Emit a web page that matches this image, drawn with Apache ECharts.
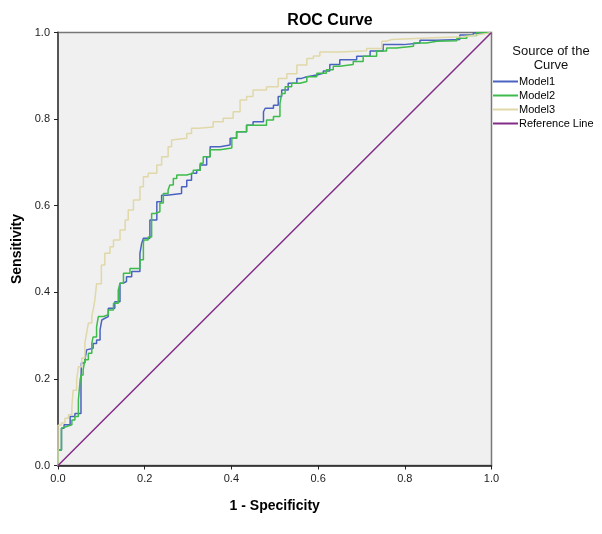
<!DOCTYPE html>
<html>
<head>
<meta charset="utf-8">
<script src="https://cdn.jsdelivr.net/npm/echarts@6/dist/echarts.min.js"></script>
<style>
  html, body { margin: 0; padding: 0; background: #fff; }
  #main { width: 602px; height: 534px; }
</style>
</head>
<body>
<div id="main"></div>
<script>
// 轴刻度
var tickValues = [0, 0.2, 0.4, 0.6, 0.8, 1.0];

// 各模型的 ROC 曲线点 [1 - 特异度, 灵敏度]
var model1 = [
    [0, 0], [0, 0.036], [0.008, 0.036], [0.014, 0.086], [0.028, 0.094], [0.039, 0.113],
    [0.053, 0.120], [0.054, 0.197], [0.062, 0.237], [0.066, 0.244], [0.070, 0.267],
    [0.081, 0.271], [0.089, 0.282], [0.097, 0.290], [0.101, 0.313], [0.105, 0.336],
    [0.108, 0.340], [0.116, 0.344], [0.131, 0.363], [0.143, 0.378], [0.151, 0.421],
    [0.158, 0.425], [0.170, 0.436], [0.189, 0.448], [0.193, 0.490], [0.197, 0.513],
    [0.212, 0.525], [0.228, 0.567], [0.228, 0.594], [0.239, 0.609], [0.251, 0.624],
    [0.285, 0.628], [0.297, 0.644], [0.308, 0.659], [0.320, 0.675], [0.328, 0.682],
    [0.343, 0.694], [0.351, 0.713], [0.374, 0.736], [0.397, 0.740], [0.412, 0.756],
    [0.435, 0.771], [0.450, 0.786], [0.474, 0.794], [0.478, 0.817], [0.497, 0.825],
    [0.508, 0.832], [0.516, 0.852], [0.531, 0.867], [0.551, 0.883], [0.562, 0.894],
    [0.574, 0.898], [0.597, 0.902], [0.612, 0.906], [0.627, 0.911], [0.650, 0.926],
    [0.689, 0.937], [0.720, 0.945], [0.750, 0.957], [0.797, 0.972], [0.835, 0.976],
    [0.874, 0.982], [0.927, 0.984], [0.958, 0.994], [0.989, 0.999], [1, 1]
];

var model2 = [
    [0, 0], [0, 0.036], [0.008, 0.036], [0.012, 0.086], [0.020, 0.090], [0.032, 0.094],
    [0.039, 0.105], [0.047, 0.113], [0.051, 0.151], [0.053, 0.197], [0.058, 0.209],
    [0.062, 0.221], [0.070, 0.244], [0.078, 0.259], [0.081, 0.282], [0.089, 0.297],
    [0.093, 0.320], [0.105, 0.344], [0.116, 0.348], [0.128, 0.359], [0.139, 0.375],
    [0.143, 0.405], [0.151, 0.421], [0.166, 0.444], [0.189, 0.455], [0.197, 0.475],
    [0.198, 0.513], [0.208, 0.521], [0.216, 0.528], [0.224, 0.582], [0.235, 0.586],
    [0.243, 0.606], [0.254, 0.628], [0.258, 0.636], [0.266, 0.648], [0.274, 0.663],
    [0.297, 0.671], [0.312, 0.675], [0.328, 0.682], [0.335, 0.698], [0.351, 0.713],
    [0.374, 0.729], [0.401, 0.733], [0.412, 0.756], [0.435, 0.771], [0.450, 0.786],
    [0.481, 0.786], [0.497, 0.798], [0.512, 0.806], [0.516, 0.836], [0.524, 0.859],
    [0.539, 0.875], [0.558, 0.883], [0.574, 0.887], [0.597, 0.898], [0.619, 0.906],
    [0.635, 0.914], [0.650, 0.922], [0.681, 0.926], [0.704, 0.933], [0.735, 0.945],
    [0.758, 0.957], [0.781, 0.964], [0.820, 0.968], [0.850, 0.976], [0.874, 0.980],
    [0.920, 0.981], [0.943, 0.987], [0.966, 0.993], [0.993, 1.0], [1, 1]
];

var model3 = [
    [0, 0], [0, 0.017], [0.008, 0.093], [0.016, 0.098], [0.024, 0.109], [0.032, 0.117],
    [0.035, 0.136], [0.043, 0.174], [0.047, 0.197], [0.055, 0.228], [0.062, 0.248],
    [0.066, 0.283], [0.070, 0.306], [0.078, 0.329], [0.081, 0.344], [0.085, 0.359],
    [0.089, 0.382], [0.100, 0.420], [0.108, 0.463], [0.120, 0.490], [0.128, 0.505],
    [0.143, 0.521], [0.155, 0.544], [0.162, 0.567], [0.174, 0.590], [0.189, 0.613],
    [0.197, 0.644], [0.208, 0.667], [0.228, 0.675], [0.239, 0.694], [0.254, 0.713],
    [0.262, 0.736], [0.266, 0.752], [0.297, 0.756], [0.308, 0.767], [0.324, 0.779],
    [0.358, 0.782], [0.381, 0.794], [0.404, 0.802], [0.420, 0.817], [0.435, 0.844],
    [0.450, 0.852], [0.481, 0.867], [0.508, 0.875], [0.528, 0.894], [0.551, 0.905],
    [0.574, 0.925], [0.589, 0.940], [0.604, 0.946], [0.650, 0.955], [0.712, 0.958],
    [0.747, 0.963], [0.758, 0.980], [0.770, 0.984], [0.866, 0.988], [0.935, 0.990],
    [0.966, 0.994], [0.989, 0.998], [1, 1]
];

// 参考线（对角线）
var referenceLine = [[0, 0], [1, 1]];

var seriesNames = ['Model1', 'Model2', 'Model3', 'Reference Line'];
var seriesColors = ['#4a63c0', '#3dbb4b', '#e0d8a8', '#822c88'];

var font = 'Liberation Sans, Arial, sans-serif';

function makeSeries(name, data, color, step) {
    return {
        name: name,
        type: 'line',
        data: data,
        step: step,
        symbol: 'none',
        animation: false,
        lineStyle: { color: color, width: 1.5 },
        itemStyle: { color: color }
    };
}

var myChart = echarts.init(document.getElementById('main'));

var option = {
    backgroundColor: '#ffffff',
    title: [{
        text: 'ROC Curve',
        left: 325,
        top: 8,
        textAlign: 'center',
        textStyle: { fontFamily: font, fontSize: 16, fontWeight: 'bold', color: '#000' }
    }, {
        text: 'Source of the\nCurve',
        left: 546,
        top: 39,
        textAlign: 'center',
        textStyle: { fontFamily: font, fontSize: 13, fontWeight: 'normal', color: '#111', lineHeight: 14 }
    }],
    legend: {
        data: seriesNames,
        orient: 'vertical',
        left: 492,
        top: 76,
        itemWidth: 25,
        itemHeight: 11,
        itemGap: 3,
        padding: 0,
        itemStyle: { opacity: 0 },
        textStyle: { fontFamily: font, fontSize: 11, color: '#000', padding: [0, 0, 0, -4] }
    },
    grid: {
        left: 58,
        right: 110.5,
        top: 32.5,
        bottom: 68.5,
        show: true,
        backgroundColor: '#f0f0f0',
        borderColor: '#777',
        borderWidth: 1.5
    },
    xAxis: {
        type: 'value',
        min: 0,
        max: 1,
        interval: 0.2,
        name: '1 - Specificity',
        nameLocation: 'middle',
        nameGap: 34,
        nameTextStyle: { fontFamily: font, fontSize: 14, fontWeight: 'bold', color: '#000' },
        axisLine: { show: true, lineStyle: { color: '#222', width: 1.5 } },
        axisTick: { show: true, inside: false, length: 4, lineStyle: { color: '#222' } },
        axisLabel: {
            margin: 8,
            fontFamily: font,
            fontSize: 11,
            color: '#222',
            formatter: function (v) { return v.toFixed(1); }
        },
        splitLine: { show: false }
    },
    yAxis: {
        type: 'value',
        min: 0,
        max: 1,
        interval: 0.2,
        name: 'Sensitivity',
        nameLocation: 'middle',
        nameGap: 34,
        nameTextStyle: { fontFamily: font, fontSize: 14, fontWeight: 'bold', color: '#000' },
        axisLine: { show: true, lineStyle: { color: '#555', width: 2 } },
        axisTick: { show: true, inside: false, length: 4, lineStyle: { color: '#222' } },
        axisLabel: {
            margin: 8,
            fontFamily: font,
            fontSize: 11,
            color: '#222',
            formatter: function (v) { return v.toFixed(1); }
        },
        splitLine: { show: false }
    },
    series: [
        makeSeries(seriesNames[0], model1, seriesColors[0], 'start'),
        makeSeries(seriesNames[1], model2, seriesColors[1], 'start'),
        makeSeries(seriesNames[2], model3, seriesColors[2], 'start'),
        makeSeries(seriesNames[3], referenceLine, seriesColors[3], false)
    ]
};

myChart.setOption(option);
</script>
</body>
</html>
